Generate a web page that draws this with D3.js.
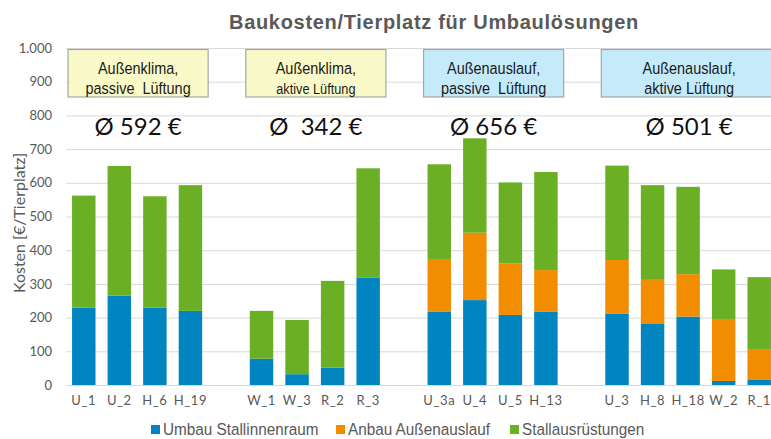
<!DOCTYPE html>
<html>
<head>
<meta charset="utf-8">
<script src="https://d3js.org/d3.v7.min.js"></script>
<title>Baukosten/Tierplatz</title>
<style>
  body { margin: 0; background: #fff; }
  .grid line { stroke: #d9d9d9; }
  .grid path { display: none; }
  .yax text { fill: #595959; font-family: Lato, "Open Sans", sans-serif; font-size: 13px; }
  .xax text { fill: #595959; font-family: Lato, "Open Sans", sans-serif; font-size: 13px; letter-spacing: 0.6px; }
  .narrow { font-family: "Liberation Sans", Arial, sans-serif; }
</style>
</head>
<body>
<script>
// categories (empty strings are the gaps between groups)
var categories = ["U_1", "U_2", "H_6", "H_19", "",
                  "W_1", "W_3", "R_2", "R_3", "",
                  "U_3a", "U_4", "U_5", "H_13", "",
                  "U_3", "H_8", "H_18", "W_2", "R_1"];
var umbau   = [230, 265, 230, 220, null, 78, 32, 52, 318, null, 217, 252, 208, 217, null, 211, 181, 203, 12, 15];
var anbau   = [0, 0, 0, 0, null, 0, 0, 0, 0, null, 157, 200, 153, 124, null, 160, 131, 126, 184, 92];
var ausruest= [332, 385, 330, 373, null, 142, 161, 257, 325, null, 281, 280, 240, 291, null, 280, 281, 259, 147, 213];
var seriesNames = ["Umbau Stallinnenraum", "Anbau Außenauslauf", "Stallausrüstungen"];
var colors = ["#0085c0", "#f28c00", "#6baf25"];
var yTicks = [0, 100, 200, 300, 400, 500, 600, 700, 800, 900, 1000];

var groups = [
  {first: "U_1", last: "H_19", l1: "Außenklima,", l2: "passive  Lüftung", small: false, fill: "#fafac8", avg: "Ø 592 €"},
  {first: "W_1", last: "R_3", l1: "Außenklima,", l2: "aktive Lüftung", small: true, fill: "#fafac8", avg: "Ø  342 €"},
  {first: "U_3a", last: "H_13", l1: "Außenauslauf,", l2: "passive  Lüftung", small: false, fill: "#c5ebfa", avg: "Ø 656 €"},
  {first: "U_3", last: "R_1", l1: "Außenauslauf,", l2: "aktive Lüftung", small: false, fill: "#c5ebfa", avg: "Ø 501 €"}
];

var W = 771, H = 439;
var svg = d3.select("body").append("svg").attr("width", W).attr("height", H);

var keys = categories.map(function (c, i) { return c === "" ? "gap" + i : c; });
var x = d3.scaleBand().domain(keys).range([66, 777]).paddingInner(0.34).paddingOuter(0.17);
var y = d3.scaleLinear().domain([0, 1000]).range([385, 48]);

// narrow text: regular font squeezed horizontally
function narrowText(parent, px, py, size, sx, anchor, fill, str) {
  return parent.append("text").attr("class", "narrow")
    .attr("transform", "translate(" + px + "," + py + ") scale(" + sx + ",1)")
    .attr("text-anchor", anchor).attr("font-size", size).attr("fill", fill)
    .style("white-space", "pre").text(str);
}

svg.append("g").attr("class", "grid")
  .attr("transform", "translate(66,0)")
  .call(d3.axisLeft(y).tickValues(yTicks).tickSize(-(W - 66)).tickFormat(""));

svg.append("g").attr("class", "yax")
  .attr("transform", "translate(55,0)")
  .call(d3.axisLeft(y).tickValues(yTicks).tickSize(0).tickPadding(3)
    .tickFormat(function (d) { return d === 1000 ? "1.000" : d; }))
  .select(".domain").remove();

// stacked bars
var rows = categories.map(function (c, i) {
  return {key: keys[i], vals: [umbau[i], anbau[i], ausruest[i]]};
}).filter(function (r) { return r.vals[0] !== null; });

rows.forEach(function (r) {
  var base = 0;
  r.vals.forEach(function (v, k) {
    if (v > 0) {
      svg.append("rect")
        .attr("x", x(r.key)).attr("width", x.bandwidth())
        .attr("y", y(base + v)).attr("height", y(base) - y(base + v))
        .attr("fill", colors[k]);
    }
    base += v;
  });
});

// x labels
svg.append("g").attr("class", "xax")
  .attr("transform", "translate(0,385)")
  .call(d3.axisBottom(x).tickSize(0).tickPadding(11)
    .tickFormat(function (d) { return d.indexOf("gap") === 0 ? "" : d; }))
  .select(".domain").attr("stroke", "#d9d9d9");

// group boxes and averages
groups.forEach(function (g) {
  var x0 = x(g.first) - 4, x1 = x(g.last) + x.bandwidth() + 6;
  var bx = svg.append("g");
  bx.append("rect").attr("x", x0).attr("y", 49.5).attr("width", x1 - x0).attr("height", 47.5)
    .attr("fill", g.fill).attr("stroke", "#a6a6a6").attr("stroke-width", 1.2);
  var cx = (x0 + x1) / 2;
  narrowText(bx, cx, 74, 17, 0.85, "middle", "#1a1a1a", g.l1);
  narrowText(bx, cx, 94, g.small ? 15 : 17, 0.85, "middle", "#1a1a1a", g.l2);
  svg.append("text").attr("x", cx).attr("y", 135).attr("text-anchor", "middle")
    .attr("font-family", "Lato, 'Open Sans', sans-serif").attr("font-size", 24).attr("fill", "#111")
    .style("white-space", "pre").text(g.avg);
});

// title
svg.append("text").attr("x", 434).attr("y", 29).attr("text-anchor", "middle")
  .attr("font-family", "'Liberation Sans', Arial, sans-serif").attr("font-weight", "bold")
  .attr("font-size", 20).attr("letter-spacing", 0.7).attr("fill", "#595959")
  .text("Baukosten/Tierplatz für Umbaulösungen");

// y title
svg.append("text").attr("transform", "translate(25,223) rotate(-90)").attr("text-anchor", "middle")
  .attr("font-family", "Lato, 'Open Sans', sans-serif").attr("font-size", 16).attr("fill", "#595959")
  .text("Kosten [€/Tierplatz]");

// legend
var legX = [151, 336, 510];
seriesNames.forEach(function (n, i) {
  svg.append("rect").attr("x", legX[i]).attr("y", 425).attr("width", 9).attr("height", 9).attr("fill", colors[i]);
  narrowText(svg, legX[i] + 12, 435, 17, 0.9, "start", "#595959", n);
});
</script>
</body>
</html>
